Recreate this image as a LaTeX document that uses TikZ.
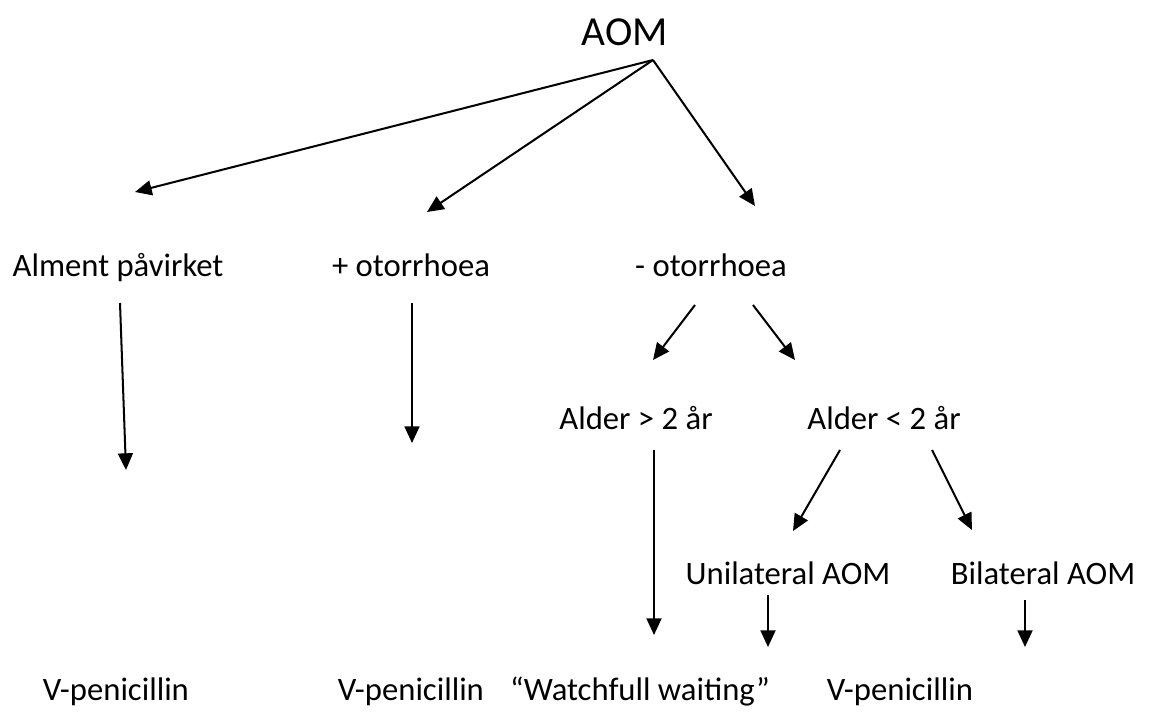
\documentclass[tikz,border=0pt]{standalone}
\usepackage{fontspec}
\setmainfont{Carlito}
\usepackage{tikz}
\usetikzlibrary{arrows.meta}
\tikzset{
  lab/.style={text=black, font=\fontsize{18.6}{22}\selectfont, inner sep=0pt, anchor=base},
  top/.style={text=black, font=\fontsize{23.5}{28}\selectfont, inner sep=0pt, anchor=base},
  arr/.style={draw=black, line width=1.15pt, -{Triangle[length=9.5pt,width=8.5pt]}},
}
\begin{document}
\begin{tikzpicture}[x=0.02cm,y=-0.02cm]
  \useasboundingbox[fill=white] (0,0) rectangle (1150,717);
  % labels
  \node[top] (aom) at (625,45) {AOM};
  \node[lab] (alment) at (118,276) {Alment påvirket};
  \node[lab] (plus) at (411,276) {+ otorrhoea};
  \node[lab] (minus) at (711,276) {- otorrhoea};
  \node[lab] (over) at (636,429) {Alder > 2 år};
  \node[lab] (under) at (884,429) {Alder < 2 år};
  \node[lab] (uni) at (788,584) {Unilateral AOM};
  \node[lab] (bi) at (1043,584) {Bilateral AOM};
  \node[lab] (pen1) at (116,700) {V-penicillin};
  \node[lab] (pen2) at (411,700) {V-penicillin};
  \node[lab] (wait) at (640,700) {“Watchfull waiting”};
  \node[lab] (pen3) at (900,700) {V-penicillin};
  % arrow ends
  \coordinate (a0) at (653,60);
  \coordinate (a1) at (135,192);
  \coordinate (a2) at (427,212);
  \coordinate (a3) at (755,206);
  \coordinate (b1s) at (120,303);
  \coordinate (b1e) at (126,470);
  \coordinate (b2s) at (412,303);
  \coordinate (b2e) at (412,443);
  \coordinate (c1s) at (695,305);
  \coordinate (c1e) at (653,360);
  \coordinate (c2s) at (753,305);
  \coordinate (c2e) at (795,360);
  \coordinate (d1s) at (654,450);
  \coordinate (d1e) at (654,635);
  \coordinate (e1s) at (840,450);
  \coordinate (e1e) at (793,531);
  \coordinate (e2s) at (932,450);
  \coordinate (e2e) at (972,530);
  \coordinate (f1s) at (768,595);
  \coordinate (f1e) at (768,647);
  \coordinate (f2s) at (1025,600);
  \coordinate (f2e) at (1025,647);
  % arrows
  \draw[arr] (a0) -- (a1);
  \draw[arr] (a0) -- (a2);
  \draw[arr] (a0) -- (a3);
  \draw[arr] (b1s) -- (b1e);
  \draw[arr] (b2s) -- (b2e);
  \draw[arr] (c1s) -- (c1e);
  \draw[arr] (c2s) -- (c2e);
  \draw[arr] (d1s) -- (d1e);
  \draw[arr] (e1s) -- (e1e);
  \draw[arr] (e2s) -- (e2e);
  \draw[arr] (f1s) -- (f1e);
  \draw[arr] (f2s) -- (f2e);
\end{tikzpicture}
\end{document}
